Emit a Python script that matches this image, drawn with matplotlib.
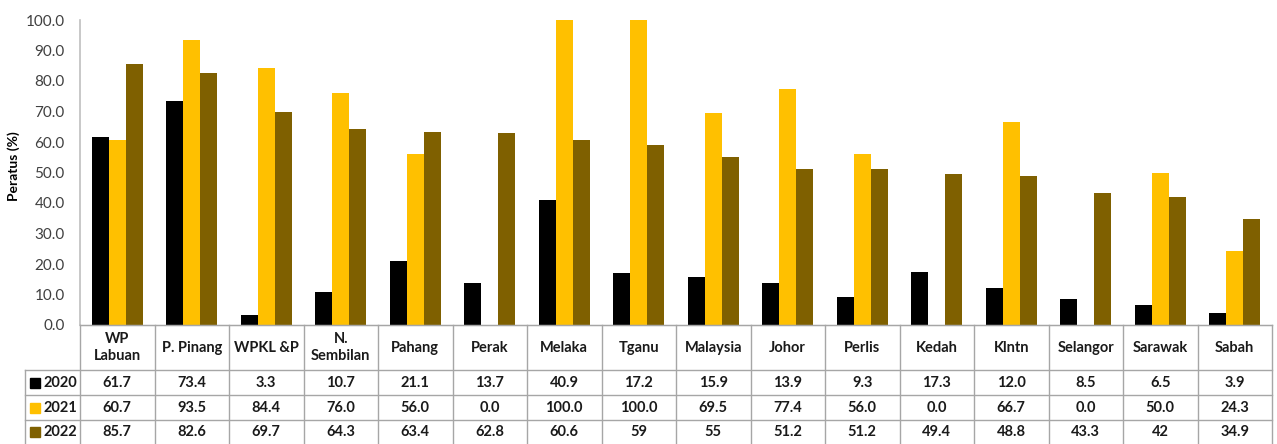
import matplotlib
matplotlib.use("Agg")
import matplotlib.pyplot as plt
import numpy as np
from matplotlib.lines import Line2D
from matplotlib.patches import Rectangle

plt.rcParams['font.family'] = ['Lato', 'DejaVu Sans']

categories = ["WP\nLabuan", "P. Pinang", "WPKL &P", "N.\nSembilan", "Pahang", "Perak",
              "Melaka", "Tganu", "Malaysia", "Johor", "Perlis", "Kedah", "Klntn",
              "Selangor", "Sarawak", "Sabah"]
years = ["2020", "2021", "2022"]
v2020 = [61.7, 73.4, 3.3, 10.7, 21.1, 13.7, 40.9, 17.2, 15.9, 13.9, 9.3, 17.3, 12.0, 8.5, 6.5, 3.9]
v2021 = [60.7, 93.5, 84.4, 76.0, 56.0, 0.0, 100.0, 100.0, 69.5, 77.4, 56.0, 0.0, 66.7, 0.0, 50.0, 24.3]
v2022 = [85.7, 82.6, 69.7, 64.3, 63.4, 62.8, 60.6, 59, 55, 51.2, 51.2, 49.4, 48.8, 43.3, 42, 34.9]
labels2020 = ["61.7", "73.4", "3.3", "10.7", "21.1", "13.7", "40.9", "17.2", "15.9", "13.9", "9.3", "17.3", "12.0", "8.5", "6.5", "3.9"]
labels2021 = ["60.7", "93.5", "84.4", "76.0", "56.0", "0.0", "100.0", "100.0", "69.5", "77.4", "56.0", "0.0", "66.7", "0.0", "50.0", "24.3"]
labels2022 = ["85.7", "82.6", "69.7", "64.3", "63.4", "62.8", "60.6", "59", "55", "51.2", "51.2", "49.4", "48.8", "43.3", "42", "34.9"]
colors = ["#000000", "#FFC000", "#7F6000"]

W, H = 1277, 444
fig = plt.figure(figsize=(W / 100, H / 100), dpi=100)

def fx(px):
    return px / W

def fy(py):
    return 1 - py / H

ax_l, ax_r, ax_t, ax_b = 80, 1272, 20, 325
ax = fig.add_axes([fx(ax_l), fy(ax_b), fx(ax_r - ax_l), fy(ax_t) - fy(ax_b)])

n = len(categories)
x = np.arange(n)
bw = 0.23
for i, (vals, c) in enumerate(zip([v2020, v2021, v2022], colors)):
    ax.bar(x + (i - 1) * bw, vals, bw, color=c, zorder=2)

ax.set_xlim(-0.5, n - 0.5)
ax.set_ylim(0, 100)
ax.set_yticks(np.arange(0, 101, 10))
ax.set_yticklabels([f"{t:.1f}" for t in np.arange(0, 101, 10)], fontsize=11, color="#404040")
ax.set_xticks([])
for s in ["top", "right"]:
    ax.spines[s].set_visible(False)
ax.spines["left"].set_color("#BFBFBF")
ax.spines["bottom"].set_color("#A6A6A6")
ax.spines["left"].set_linewidth(1.2)
ax.tick_params(axis="y", length=0, pad=11)
ax.set_ylabel("Peratus (%)", fontsize=10, fontweight="bold", labelpad=6)
ax.yaxis.set_label_coords(-0.05, 0.52)

# Data table
line_c = "#A6A6A6"
col_w = (ax_r - ax_l) / n
row_edges = [325, 370, 395, 420, 446]
lab_left = 25
lines = []
lines.append(((ax_l, ax_r), (row_edges[0], row_edges[0])))
for r in row_edges[1:]:
    lines.append(((lab_left, ax_r), (r, r)))
for j in range(n + 1):
    xp = ax_l + j * col_w
    lines.append(((xp, xp), (row_edges[0], row_edges[-1])))
lines.append(((lab_left, lab_left), (row_edges[1], row_edges[-1])))
for (xs, ys) in lines:
    fig.add_artist(Line2D([fx(xs[0]), fx(xs[1])], [fy(ys[0]), fy(ys[1])],
                          color=line_c, lw=1.0, transform=fig.transFigure))

for j, cat in enumerate(categories):
    cx = ax_l + (j + 0.5) * col_w
    fig.text(fx(cx), fy((row_edges[0] + row_edges[1]) / 2), cat, ha="center", va="center",
             fontsize=10.5, fontweight="bold", linespacing=1.3, color="#1a1a1a")
    for k, labs in enumerate([labels2020, labels2021, labels2022]):
        cy = (row_edges[k + 1] + row_edges[k + 2]) / 2 if k < 2 else 432
        fig.text(fx(cx), fy(cy), labs[j], ha="center", va="center",
                 fontsize=10.5, fontweight="bold", color="#1a1a1a")

for k, (yr, c) in enumerate(zip(years, colors)):
    cy = (row_edges[k + 1] + row_edges[k + 2]) / 2 if k < 2 else 432
    fig.add_artist(Rectangle((fx(30), fy(cy + 5)), fx(10), fy(cy - 5) - fy(cy + 5),
                             color=c, transform=fig.transFigure))
    fig.text(fx(43), fy(cy), yr, ha="left", va="center", fontsize=10.5,
             fontweight="bold", color="#1a1a1a")

fig.savefig("out.png", dpi=100, facecolor="white")
